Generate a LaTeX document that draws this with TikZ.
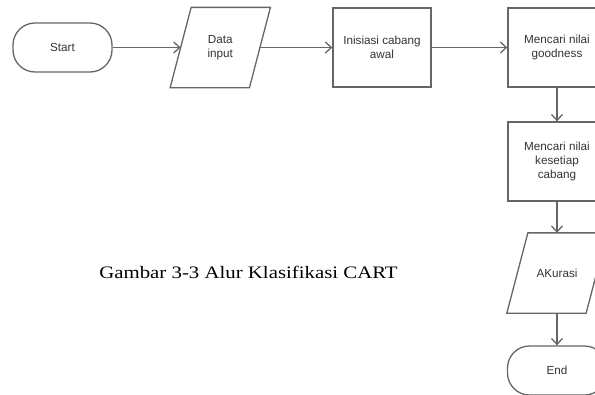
\documentclass[tikz,border=0pt]{standalone}
\usepackage{fontspec}
\setmainfont{Liberation Serif}
\setsansfont{Liberation Sans}
\usetikzlibrary{calc,arrows.meta}
\definecolor{linegray}{HTML}{666666}
\definecolor{textgray}{HTML}{333333}
\tikzset{
  base/.style={draw=linegray, line width=1.3pt, text=textgray, align=center,
    font=\sffamily\fontsize{11.7}{14}\selectfont, inner sep=1pt},
  terminal/.style={base, rectangle, rounded corners=22pt, minimum width=99pt, minimum height=49pt},
  procbox/.style={base, rectangle, minimum width=98pt, minimum height=79pt},
  iobox/.style={base, draw=none, rectangle, minimum width=78pt, minimum height=79pt},
  ioline/.style={draw=linegray, line width=1.3pt, line join=miter},
  flow/.style={draw=linegray, line width=1.3pt, -{Straight Barb[length=6pt,width=11pt,line width=1.3pt]}}
}
\newcommand{\drawio}[1]{%
  \draw[ioline] ($(#1.south west)+(-10.5,0)$) -- ($(#1.north west)+(10.5,0)$)
    -- ($(#1.north east)+(10.5,0)$) -- ($(#1.south east)+(-10.5,0)$) -- cycle;}
\begin{document}
\begin{tikzpicture}[x=1pt,y=-1pt]
\useasboundingbox (0,0) rectangle (595,394);
\node[terminal] (start) at (62.5,47.5) {Start};
\node[iobox] (data) at (220.3,47.5) {Data\\input};
\node[procbox] (init) at (382,47.5) {Inisiasi cabang\\awal};
\node[procbox] (good) at (557,47.5) {Mencari nilai\\goodness};
\node[procbox] (each) at (557,161.5) {Mencari nilai\\kesetiap\\cabang};
\node[iobox] (acc) at (557,273) {AKurasi};
\node[terminal] (end) at (557,370.5) {End};
\drawio{data}
\drawio{acc}
\node[font=\rmfamily\fontsize{17.5}{20}\selectfont, xscale=1.19, inner sep=0pt, anchor=base] (cap) at (248.5,278) {Gambar 3-3 Alur Klasifikasi CART};
\draw[flow] (start.east) -- (data.west);
\draw[flow] (data.east) -- (init.west);
\draw[flow] (init.east) -- (good.west);
\draw[flow] (good.south) -- (each.north);
\draw[flow] (each.south) -- (acc.north);
\draw[flow] (acc.south) -- (end.north);
\end{tikzpicture}
\end{document}
